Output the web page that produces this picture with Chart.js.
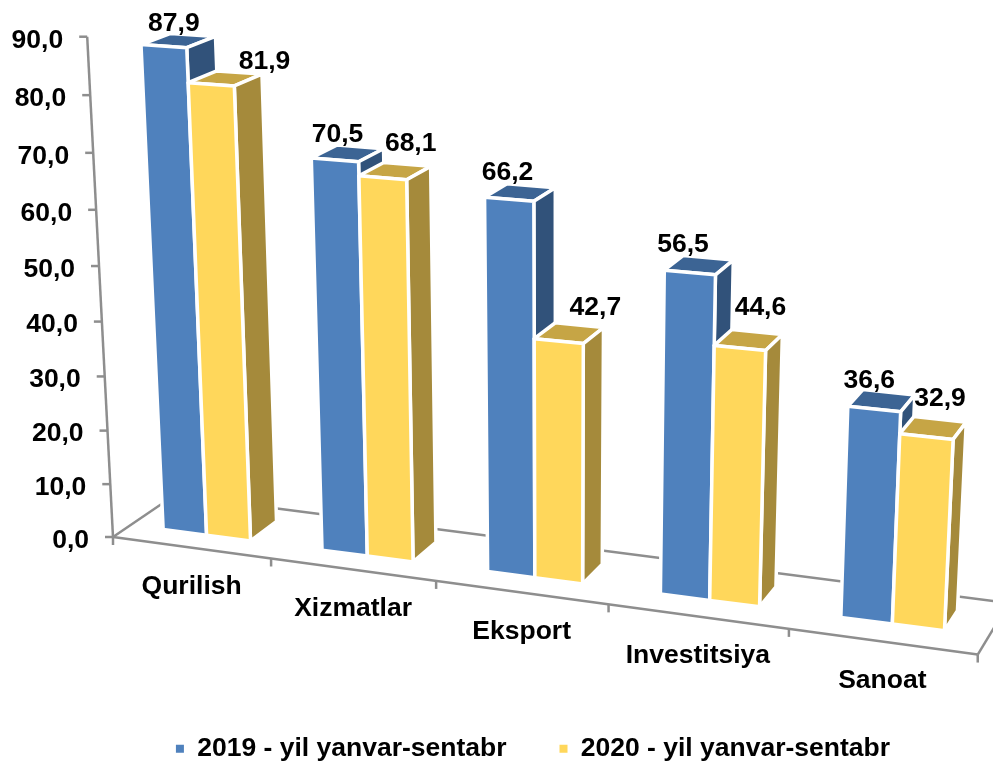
<!DOCTYPE html>
<html>
<head>
<meta charset="utf-8">
<title>Chart</title>
<script src="https://cdn.jsdelivr.net/npm/chart.js@4/dist/chart.umd.min.js"></script>
<style>
  html, body { margin: 0; padding: 0; background: #fff; }
  canvas { display: block; }
</style>
</head>
<body>
<canvas id="myChart" width="993" height="761"></canvas>
<script>
const categories = ["Qurilish", "Xizmatlar", "Eksport", "Investitsiya", "Sanoat"];
const values2019 = [87.9, 70.5, 66.2, 56.5, 36.6];
const values2020 = [81.9, 68.1, 42.7, 44.6, 32.9];
const seriesNames = ["2019 - yil yanvar-sentabr", "2020 - yil yanvar-sentabr"];
const yMax = 90;
const yStep = 10;

const FONT = 'bold 26.5px "Liberation Sans", Arial, sans-serif';
const AXIS = "#8e8e8e";

// front, top, side colours of each series
const faces = [
  { front: "#4f81bd", top: "#3c6494", side: "#31527a" },
  { front: "#ffd75b", top: "#c6a545", side: "#a58a3b" },
];

// perspective of the picture: origin and the three vanishing points
const O = [113, 537];
const VX = { a: -0.1051, p: [-7250, -464] };
const VY = { a: -0.0548, p: [558, 9166] };
const VZ = { a: 0.0305, p: [1700, -540] };

const BACK_Z = 0.97;
const FLOOR_Z = 1.32;
const X_SHIFT = -0.002;

// the bars do not stand quite parallel to the front edge of the floor
function frontZ(X) {
  return 0.36 + 0.09 * X;
}

function project(X, Y, Z) {
  const w = 1 + VX.a * X + VY.a * Y + VZ.a * Z;
  return [
    (O[0] + X * VX.a * VX.p[0] + Y * VY.a * VY.p[0] + Z * VZ.a * VZ.p[0]) / w,
    (O[1] + X * VX.a * VX.p[1] + Y * VY.a * VY.p[1] + Z * VZ.a * VZ.p[1]) / w,
  ];
}

function quad(ctx, pts, fill) {
  ctx.beginPath();
  pts.forEach((p, i) => (i ? ctx.lineTo(p[0], p[1]) : ctx.moveTo(p[0], p[1])));
  ctx.closePath();
  ctx.fillStyle = fill;
  ctx.fill();
  ctx.stroke();
}

function line(ctx, a, b) {
  ctx.beginPath();
  ctx.moveTo(a[0], a[1]);
  ctx.lineTo(b[0], b[1]);
  ctx.stroke();
}

// label nudges in pixels, from the top of each bar
const labelNudge = [
  [[-6, -16], [-11, -18], [-13, -20], [-16, -20], [-12, -20]],
  [[38, -16], [15, -27], [26, -25], [12, -32], [7, -30]],
];

const perspectiveBars = {
  id: "perspectiveBars",
  beforeDatasetDraw() {
    return false; // bars are painted below, through project()
  },
  beforeDatasetsDraw(chart) {
    const ctx = chart.ctx;
    const xScale = chart.scales.x;
    const yScale = chart.scales.y;
    ctx.save();
    ctx.strokeStyle = AXIS;
    ctx.lineWidth = 2.5;

    // floor
    line(ctx, project(0, 0, 0), project(1, 0, 0));
    line(ctx, project(0, 0, 0), project(0, 0, FLOOR_Z));
    line(ctx, project(0, 0, FLOOR_Z), project(1, 0, FLOOR_Z));
    line(ctx, project(1, 0, 0), project(1, 0, FLOOR_Z));
    xScale.ticks.concat([null]).forEach((t, i) => {
      const p = project(i / categories.length, 0, 0);
      line(ctx, p, [p[0], p[1] + 8]);
    });

    // value axis
    line(ctx, project(0, 0, 0), project(0, 1, 0));
    ctx.font = FONT;
    ctx.fillStyle = "#000";
    ctx.textAlign = "right";
    ctx.textBaseline = "middle";
    yScale.ticks.forEach((t) => {
      const p = project(0, t.value / yMax, 0);
      line(ctx, p, [p[0] - 8, p[1]]);
      ctx.fillText(t.label, p[0] - 24, p[1] + 3.5);
    });

    // category names
    ctx.textAlign = "center";
    xScale.ticks.forEach((t, i) => {
      const p = project((i + 0.5) / categories.length + X_SHIFT, 0, 0);
      ctx.fillText(xScale.getLabelForValue(t.value), p[0] + 2, p[1] + 39);
    });
    ctx.restore();
  },
  afterDatasetsDraw(chart) {
    const ctx = chart.ctx;
    const area = chart.chartArea;
    const toX = (px) => (px - area.left) / area.width + X_SHIFT;
    const toY = (py) => (area.bottom - py) / area.height;
    ctx.save();
    ctx.strokeStyle = "#fff";
    ctx.lineWidth = 3.5;
    ctx.lineJoin = "round";
    categories.forEach((c, i) => {
      chart.data.datasets.forEach((ds, d) => {
        const bar = chart.getDatasetMeta(d).data[i];
        const x0 = toX(bar.x - bar.width / 2);
        const x1 = toX(bar.x + bar.width / 2);
        const y0 = toY(bar.base);
        const y1 = toY(bar.y);
        const z0 = frontZ(x0);
        const z1 = frontZ(x1);
        quad(ctx, [project(x0, y1, z0), project(x1, y1, z1), project(x1, y1, BACK_Z), project(x0, y1, BACK_Z)], faces[d].top);
        quad(ctx, [project(x1, y0, z1), project(x1, y1, z1), project(x1, y1, BACK_Z), project(x1, y0, BACK_Z)], faces[d].side);
        quad(ctx, [project(x0, y0, z0), project(x1, y0, z1), project(x1, y1, z1), project(x0, y1, z0)], faces[d].front);
      });
    });

    // values
    ctx.font = FONT;
    ctx.fillStyle = "#000";
    ctx.textAlign = "center";
    ctx.textBaseline = "middle";
    categories.forEach((c, i) => {
      chart.data.datasets.forEach((ds, d) => {
        const bar = chart.getDatasetMeta(d).data[i];
        const p = project(toX(bar.x), toY(bar.y), 0.695);
        const n = labelNudge[d][i];
        ctx.fillText(ds.data[i].toFixed(1).replace(".", ","), p[0] + n[0], p[1] + n[1]);
      });
    });
    ctx.restore();
  },
};

var ctx = document.getElementById("myChart").getContext("2d");
var chart = new Chart(ctx, {
  type: "bar",
  data: {
    labels: categories,
    datasets: [
      { label: seriesNames[0], data: values2019, backgroundColor: faces[0].front },
      { label: seriesNames[1], data: values2020, backgroundColor: faces[1].front },
    ],
  },
  options: {
    responsive: false,
    animation: false,
    layout: { padding: { left: 73, bottom: -11 } },
    datasets: { bar: { categoryPercentage: 0.555, barPercentage: 1 } },
    scales: {
      x: { display: false },
      y: {
        display: false,
        min: 0,
        max: yMax,
        ticks: {
          stepSize: yStep,
          callback: (v) => v.toFixed(1).replace(".", ","),
        },
      },
    },
    plugins: {
      tooltip: { enabled: false },
      legend: {
        position: "bottom",
        labels: {
          color: "#000",
          font: { family: '"Liberation Sans", Arial, sans-serif', size: 26.5, weight: "bold" },
          boxWidth: 8,
          boxHeight: 8,
          padding: 53,
        },
      },
    },
  },
  plugins: [perspectiveBars],
});
</script>
</body>
</html>
